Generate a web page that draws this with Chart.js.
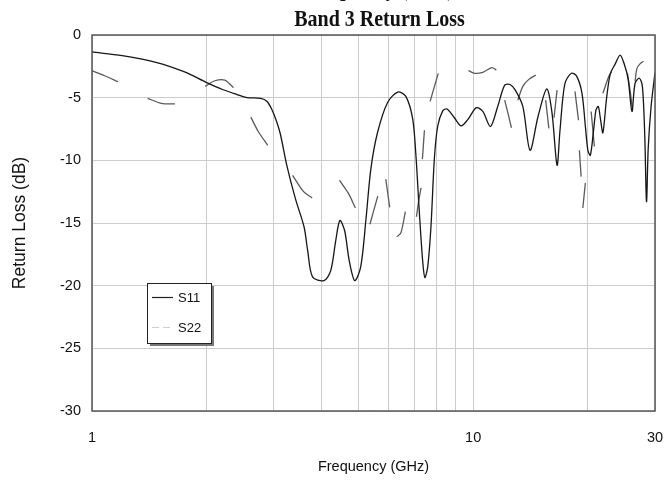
<!DOCTYPE html>
<html>
<head>
<meta charset="utf-8">
<script src="https://cdn.jsdelivr.net/npm/chart.js@4"></script>
<style>
  html, body { margin: 0; padding: 0; background: #fff; }
  #wrap { width: 664px; height: 481px; }
</style>
</head>
<body>
<div id="wrap"><canvas id="chart" width="664" height="481"></canvas></div>
<script>
// --- data ---
var chartTitle = 'Band 3 Return Loss';
var cutTitle = 'Frequency (GHz)';   // line above the title, mostly cropped off in the reference
var seriesNames = ['S11', 'S22'];

var xGridValues = [1, 2, 3, 4, 5, 6, 7, 8, 9, 10, 20, 30];
var xTickLabels = [1, 10, 30];
var yTickValues = [0, -5, -10, -15, -20, -25, -30];

// S11 (solid)
var s11Freq = [1.0, 1.2, 1.48, 1.75, 2.0, 2.2, 2.4, 2.55, 2.77, 2.88, 2.97, 3.05, 3.12, 3.25, 3.42, 3.6, 3.68, 3.79,
    4.06, 4.23, 4.36, 4.47, 4.6, 4.73, 4.89, 5.07, 5.23, 5.39, 5.61, 5.96, 6.34, 6.66, 6.94, 7.08, 7.22, 7.37, 7.47,
    7.6, 7.75, 7.91, 8.07, 8.32, 8.54, 8.93, 9.3, 9.68, 10.2, 10.6, 11.1, 11.6, 12.1, 12.5, 12.9, 13.5, 14.1, 14.8,
    15.6, 16.1, 16.6, 16.9, 17.4, 18.1, 18.7, 19.3, 19.7, 20.0, 20.3, 20.7, 21.0, 21.3, 21.6, 21.9, 22.4, 22.9, 23.6,
    24.3, 24.9, 25.5, 26.1, 26.6, 27.3, 27.8, 28.2, 28.5, 28.8, 29.3, 30];
var s11Loss = [-1.35, -1.65, -2.2, -2.95, -3.8, -4.35, -4.75, -5.0, -5.05, -5.3, -6.0, -6.9, -7.9, -10.5, -13.1, -15.3, -17.2, -19.3,
    -19.6, -18.8, -16.4, -14.8, -15.6, -18.0, -19.6, -18.5, -14.8, -10.7, -7.8, -5.4, -4.55, -4.9, -6.7, -9.7, -14.0, -18.0, -19.35,
    -18.5, -15.3, -9.9, -7.3, -6.05, -5.9, -6.6, -7.25, -6.75, -5.8, -6.1, -7.3, -5.7, -4.0, -3.95, -4.4, -5.7, -9.2, -6.5,
    -4.3, -6.2, -10.4, -7.6, -3.9, -3.05, -3.3, -4.65, -7.3, -9.2, -9.6, -7.6, -6.0, -5.7, -6.8, -7.8, -5.0, -3.1, -2.3,
    -1.6, -2.3, -3.5, -6.1, -3.85, -3.45, -4.1, -8.0, -13.3, -9.0, -5.7, -3.0];

// S22 (dashed, only the visible dashes; null = gap)
var s22Freq = [1.0, 1.08, 1.17, null, 1.40, 1.52, 1.65, null, 1.98, 2.1, 2.23, 2.35, null, 2.61, 2.73, 2.89, null,
    3.36, 3.59, 3.78, null, 4.46, 4.70, 4.91, null, 5.36, 5.62, null, 5.9, 6.04, null, 6.3, 6.46, 6.64, null,
    7.1, 7.2, 7.3, null, 7.36, 7.45, null, 7.71, 8.1, null, 9.72, 10.1, 10.6, 11.2, 11.5, null, 12.1, 12.4, 12.6, null,
    13.1, 13.5, 14.0, 14.6, null, 15.5, 15.8, null, 16.3, 16.6, null, 18.5, 18.9, null, 19.0, 19.2, null, 19.4, 19.7, null,
    20.4, 20.8, null, 21.9, 22.7, 23.1, null, 25.4, 25.8, 26.2, null, 26.6, 26.9, 27.4, 28.0];
var s22Loss = [-2.85, -3.25, -3.73, null, -5.05, -5.45, -5.5, null, -4.1, -3.65, -3.6, -4.2, null, -6.55, -7.7, -8.8, null,
    -11.2, -12.5, -13.0, null, -11.6, -12.6, -13.8, null, -15.1, -12.85, null, -11.5, -13.75, null, -16.1, -15.8, -14.1, null,
    -14.5, -13.2, -12.2, null, -9.9, -7.6, null, -5.3, -3.06, null, -2.85, -3.06, -2.98, -2.6, -2.8, null, -5.2, -6.5, -7.4, null,
    -5.2, -4.1, -3.54, -3.2, null, -5.2, -7.45, null, -6.6, -4.4, null, -4.5, -6.8, null, -9.2, -11.3, null, -13.8, -11.8, null,
    -6.1, -8.9, null, -4.65, -3.3, -2.9, null, -3.06, -4.4, -6.0, null, -3.7, -2.66, -2.3, -2.1];

function toPoints(xs, ys) {
    return xs.map(function (x, i) {
        // gaps keep an x so the line breaks there
        return { x: x === null ? xs[i - 1] : x, y: ys[i] };
    });
}

var FONT = '"Liberation Sans", Arial, sans-serif';
var SERIF = '"Liberation Serif", "Times New Roman", serif';

// plot frame, title and the boxed legend
var framePlugin = {
    id: 'frame',
    afterDraw: function (chart) {
        var ctx = chart.ctx, a = chart.chartArea;
        var cx = (a.left + a.right) / 2 + 6;
        ctx.save();
        ctx.strokeStyle = '#555';
        ctx.lineWidth = 1.5;
        ctx.strokeRect(a.left, a.top, a.right - a.left, a.bottom - a.top);

        // titles (serif, a bit tall and narrow like the original)
        ctx.fillStyle = '#111';
        ctx.textAlign = 'center';
        ctx.textBaseline = 'alphabetic';
        ctx.save();
        ctx.scale(1, 1.2);
        ctx.font = 'bold 20px ' + SERIF;
        ctx.fillText(cutTitle, cx, -4 / 1.2);
        ctx.fillText(chartTitle, cx, 26 / 1.2);
        ctx.restore();

        // legend box
        var bx = 147, by = 283, bw = 64, bh = 60;
        ctx.fillStyle = '#777';
        ctx.fillRect(bx + 3, by + 3, bw, bh);
        ctx.fillStyle = '#fff';
        ctx.fillRect(bx, by, bw, bh);
        ctx.strokeStyle = '#222';
        ctx.lineWidth = 1;
        ctx.strokeRect(bx + 0.5, by + 0.5, bw, bh);

        ctx.font = '13px ' + FONT;
        ctx.textAlign = 'left';
        ctx.textBaseline = 'middle';
        ctx.fillStyle = '#111';
        ctx.lineWidth = 1.2;
        ctx.strokeStyle = '#222';
        ctx.beginPath(); ctx.moveTo(152, 297.5); ctx.lineTo(173, 297.5); ctx.stroke();
        ctx.fillText(seriesNames[0], 178, 298);
        ctx.strokeStyle = '#cfcfcf';
        ctx.setLineDash([7, 4]);
        ctx.beginPath(); ctx.moveTo(152, 327.5); ctx.lineTo(173, 327.5); ctx.stroke();
        ctx.setLineDash([]);
        ctx.fillText(seriesNames[1], 178, 328);
        ctx.restore();
    }
};

var ctx = document.getElementById('chart').getContext('2d');
new Chart(ctx, {
    type: 'line',
    data: {
        datasets: [
            {
                label: seriesNames[0],
                data: toPoints(s11Freq, s11Loss),
                borderColor: '#161616',
                borderWidth: 1.3,
                pointRadius: 0,
                tension: 0.3,
                fill: false
            },
            {
                label: seriesNames[1],
                data: toPoints(s22Freq, s22Loss),
                borderColor: '#5a5a5a',
                borderWidth: 1.3,
                pointRadius: 0,
                tension: 0.3,
                spanGaps: false,
                fill: false
            }
        ]
    },
    options: {
        responsive: false,
        animation: false,
        layout: { padding: { left: 0, top: 35, right: 9, bottom: 0 } },
        plugins: {
            legend: { display: false },
            title: { display: false },
            tooltip: { enabled: false }
        },
        scales: {
            x: {
                type: 'logarithmic',
                min: 1,
                max: 30,
                afterFit: function (scale) {
                    scale.height = 70;
                    scale.paddingLeft = 0;
                    scale.paddingRight = 0;
                },
                afterBuildTicks: function (scale) {
                    scale.ticks = xGridValues.map(function (v) { return { value: v }; });
                },
                grid: { color: '#cccccc', lineWidth: 1, drawTicks: false },
                border: { display: false },
                ticks: {
                    autoSkip: false,
                    maxRotation: 0,
                    padding: 18,
                    color: '#111',
                    font: { family: FONT, size: 14.5 },
                    callback: function (v) { return xTickLabels.indexOf(v) >= 0 ? String(v) : ''; }
                },
                title: {
                    display: true,
                    text: 'Frequency (GHz)',
                    color: '#111',
                    font: { family: FONT, size: 14.5 },
                    padding: { top: 0, bottom: 5 }
                }
            },
            y: {
                min: -30,
                max: 0,
                afterFit: function (scale) {
                    scale.width = 92;
                    scale.paddingTop = 0;
                    scale.paddingBottom = 0;
                },
                afterBuildTicks: function (scale) {
                    scale.ticks = yTickValues.map(function (v) { return { value: v }; });
                },
                grid: { color: '#cccccc', lineWidth: 1, drawTicks: false },
                border: { display: false },
                ticks: {
                    padding: 11,
                    color: '#111',
                    font: { family: FONT, size: 14.5 }
                },
                title: {
                    display: true,
                    text: 'Return Loss (dB)',
                    color: '#111',
                    font: { family: FONT, size: 17.5 },
                    padding: { top: 10, bottom: 0 }
                }
            }
        }
    },
    plugins: [framePlugin]
});
</script>
</body>
</html>
